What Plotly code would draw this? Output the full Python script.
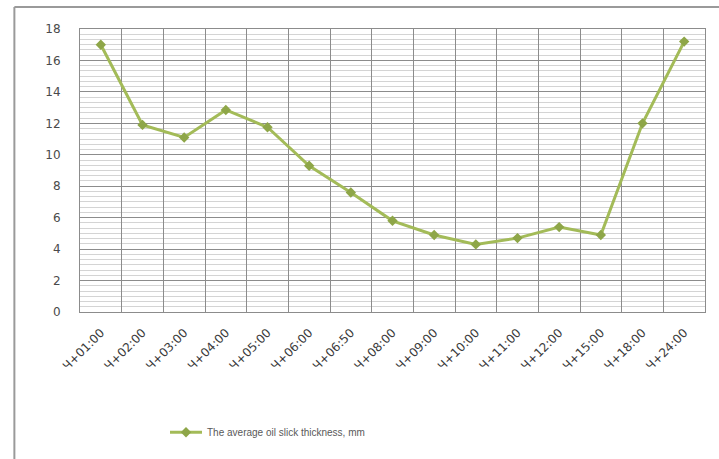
import plotly.graph_objects as go

# Time after spill and mean slick thickness (mm)
time_labels = ["Ч+01:00", "Ч+02:00", "Ч+03:00", "Ч+04:00", "Ч+05:00",
               "Ч+06:00", "Ч+06:50", "Ч+08:00", "Ч+09:00", "Ч+10:00",
               "Ч+11:00", "Ч+12:00", "Ч+15:00", "Ч+18:00", "Ч+24:00"]
thickness_mm = [17.0, 11.9, 11.1, 12.85, 11.75, 9.3, 7.6, 5.8, 4.9, 4.3,
                4.7, 5.4, 4.9, 12.0, 17.2]
series_name = "The average oil slick thickness, mm"
y_ticks = [0, 2, 4, 6, 8, 10, 12, 14, 16, 18]

fig = go.Figure()
fig.add_trace(go.Scatter(
    x=time_labels, y=thickness_mm, name=series_name,
    mode="lines+markers",
    line=dict(color="#a3bb58", width=3),
    marker=dict(symbol="diamond", size=8, color="#8ea648",
                line=dict(color="#8ea648", width=0)),
))

fig.update_layout(
    width=719, height=459,
    margin=dict(l=80, r=14, t=29, b=147),
    paper_bgcolor="white", plot_bgcolor="white",
    font=dict(family="DejaVu Sans, Verdana, sans-serif", size=12, color="#404040"),
    showlegend=True,
    legend=dict(orientation="h", x=0.30, xanchor="center", y=-0.425, yanchor="middle",
                font=dict(family="Liberation Sans, Arial, sans-serif", size=10,
                          color="#595959"),
                itemwidth=32),
)

fig.update_xaxes(
    type="category", range=[-0.5, len(time_labels) - 0.5],
    tickangle=-45, tickson="boundaries", automargin=False,
    showgrid=True, gridcolor="#8c8c8c", gridwidth=1,
    showline=True, linecolor="#8c8c8c", mirror=True,
    ticks="", ticklabelstandoff=8,
    tickfont=dict(size=12, color="#3a3a3a"),
)
fig.update_yaxes(
    range=[0, 18], tickvals=y_ticks, automargin=False,
    showgrid=True, gridcolor="#8c8c8c", gridwidth=1,
    minor=dict(dtick=1 / 3, showgrid=True, gridcolor="#d4d4d4", gridwidth=1),
    showline=True, linecolor="#8c8c8c", mirror=True,
    ticks="", ticklabelstandoff=16, zeroline=False,
    tickfont=dict(size=12, color="#4a4a4a"),
)

# Outer chart frame (top and left edges)
fig.add_shape(type="line", xref="paper", yref="paper",
              x0=-0.105, x1=1.03, y0=1.078, y1=1.078,
              line=dict(color="#9a9a9a", width=2))
fig.add_shape(type="line", xref="paper", yref="paper",
              x0=-0.105, x1=-0.105, y0=1.078, y1=-0.56,
              line=dict(color="#9a9a9a", width=2))

fig.write_html("out.html")
